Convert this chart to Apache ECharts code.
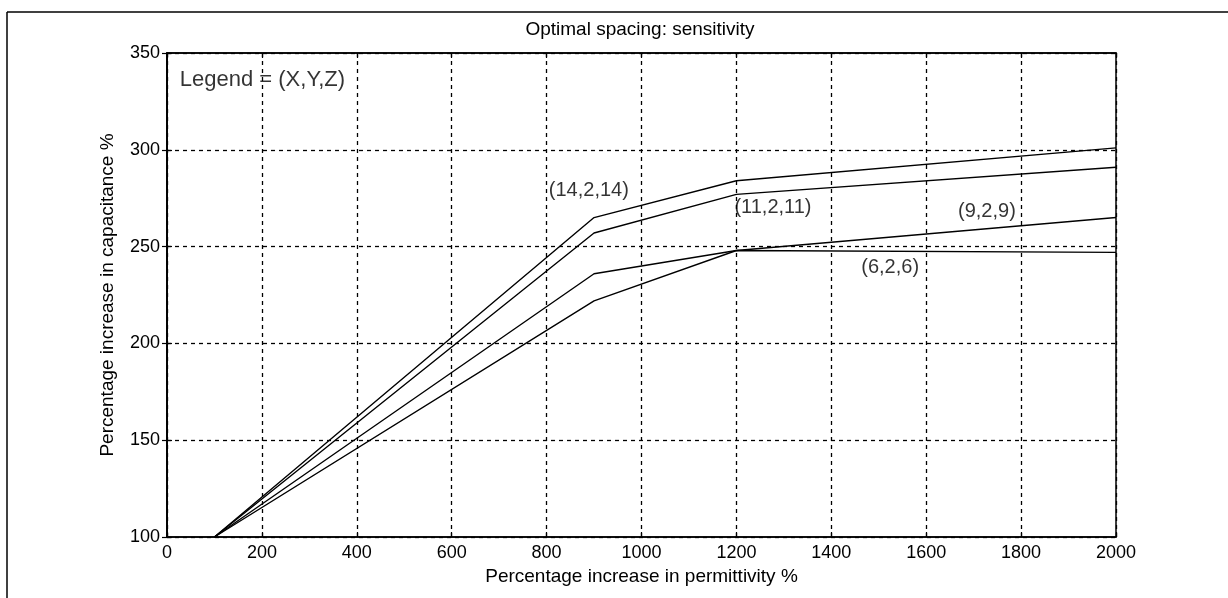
<!DOCTYPE html>
<html>
<head>
<meta charset="utf-8">
<script src="https://cdn.jsdelivr.net/npm/echarts@6/dist/echarts.min.js"></script>
<style>
html,body{margin:0;padding:0;background:#fff;}
#chart{width:1228px;height:598px;}
</style>
</head>
<body>
<div id="chart"></div>
<script>
// ---- data ----
const xTicks = [0, 200, 400, 600, 800, 1000, 1200, 1400, 1600, 1800, 2000];
const yTicks = [100, 150, 200, 250, 300, 350];
const permittivity = [100, 900, 1200, 2000];
const s14 = [100, 265, 284, 301];
const s11 = [100, 257, 277, 291];
const s9  = [100, 236, 248, 265];
const s6  = [100, 222, 248, 247];
const seriesNames = ['(14,2,14)', '(11,2,11)', '(9,2,9)', '(6,2,6)'];
const labelX = [889, 1277, 1728, 1524];
const labelY = [279, 270, 268, 239];
const legendText = 'Legend = (X,Y,Z)';
const legendPos = [27, 336];
const titleText = 'Optimal spacing: sensitivity';
const xName = 'Percentage increase in permittivity %';
const yName = 'Percentage increase in capacitance %';

const FONT = '"Liberation Sans", Arial, Helvetica, sans-serif';
const chart = echarts.init(document.getElementById('chart'), null, {renderer: 'canvas'});

function pairs(xs, ys) { return xs.map((x, i) => [x, ys[i]]); }
const allSeries = [s14, s11, s9, s6];

const lineSeries = allSeries.map((ys, i) => ({
  name: seriesNames[i],
  type: 'line',
  data: pairs(permittivity, ys),
  symbol: 'none',
  lineStyle: {color: '#000', width: 1.4},
  xAxisIndex: 0, yAxisIndex: 0,
  silent: true, animation: false
}));

const annData = seriesNames.map((n, i) => ({value: [labelX[i], labelY[i]], label: {formatter: n}}));
annData.push({value: legendPos, label: {formatter: legendText, align: 'left', fontSize: 22}});

const annSeries = {
  type: 'scatter',
  data: annData,
  symbolSize: 0,
  label: {show: true, position: 'inside', color: '#000', fontFamily: FONT, fontSize: 20, align: 'center', verticalAlign: 'middle'},
  silent: true, animation: false
};

const plain = v => String(v);

const axisCommon = {
  type: 'value',
  axisLine: {show: true, lineStyle: {color: '#000', width: 1.5}},
  axisTick: {show: true, inside: true, length: 5, lineStyle: {color: '#000', width: 1.2}},
};

const option = {
  animation: false,
  backgroundColor: '#fff',
  grid: {left: 167, right: 112, top: 53, bottom: 61, show: true, borderColor: '#000', borderWidth: 1.5},
  xAxis: [
    Object.assign({}, axisCommon, {
      min: xTicks[0], max: xTicks[xTicks.length - 1], interval: 200,
      position: 'bottom',
      name: xName, nameLocation: 'middle', nameGap: 30,
      nameTextStyle: {color: '#000', fontFamily: FONT, fontSize: 19},
      axisLabel: {color: '#000', fontFamily: FONT, fontSize: 18, margin: 7, formatter: plain},
      splitLine: {show: true, lineStyle: {color: '#000', type: [4, 4], width: 1.3}}
    }),
    Object.assign({}, axisCommon, {
      min: xTicks[0], max: xTicks[xTicks.length - 1], interval: 200,
      position: 'top', axisLabel: {show: false}, splitLine: {show: false}
    })
  ],
  yAxis: [
    Object.assign({}, axisCommon, {
      min: yTicks[0], max: yTicks[yTicks.length - 1], interval: 50,
      position: 'left',
      name: yName, nameLocation: 'middle', nameGap: 50,
      nameTextStyle: {color: '#000', fontFamily: FONT, fontSize: 19},
      axisLabel: {color: '#000', fontFamily: FONT, fontSize: 18, margin: 7, formatter: plain},
      splitLine: {show: true, lineStyle: {color: '#000', type: [4, 4], width: 1.3}}
    }),
    Object.assign({}, axisCommon, {
      min: yTicks[0], max: yTicks[yTicks.length - 1], interval: 50,
      position: 'right', axisLabel: {show: false}, splitLine: {show: false}
    })
  ],
  graphic: [
    {type: 'text', x: 640, y: 30,
     style: {text: titleText, fill: '#000', font: '19px ' + FONT, textAlign: 'center', textVerticalAlign: 'middle'}},
    {type: 'line', shape: {x1: 7, y1: 12, x2: 1228, y2: 12}, style: {stroke: '#000', lineWidth: 1.5}},
    {type: 'line', shape: {x1: 7, y1: 12, x2: 7, y2: 598}, style: {stroke: '#000', lineWidth: 1.5}}
  ],
  series: lineSeries.concat([annSeries])
};
chart.setOption(option);
</script>
</body>
</html>
